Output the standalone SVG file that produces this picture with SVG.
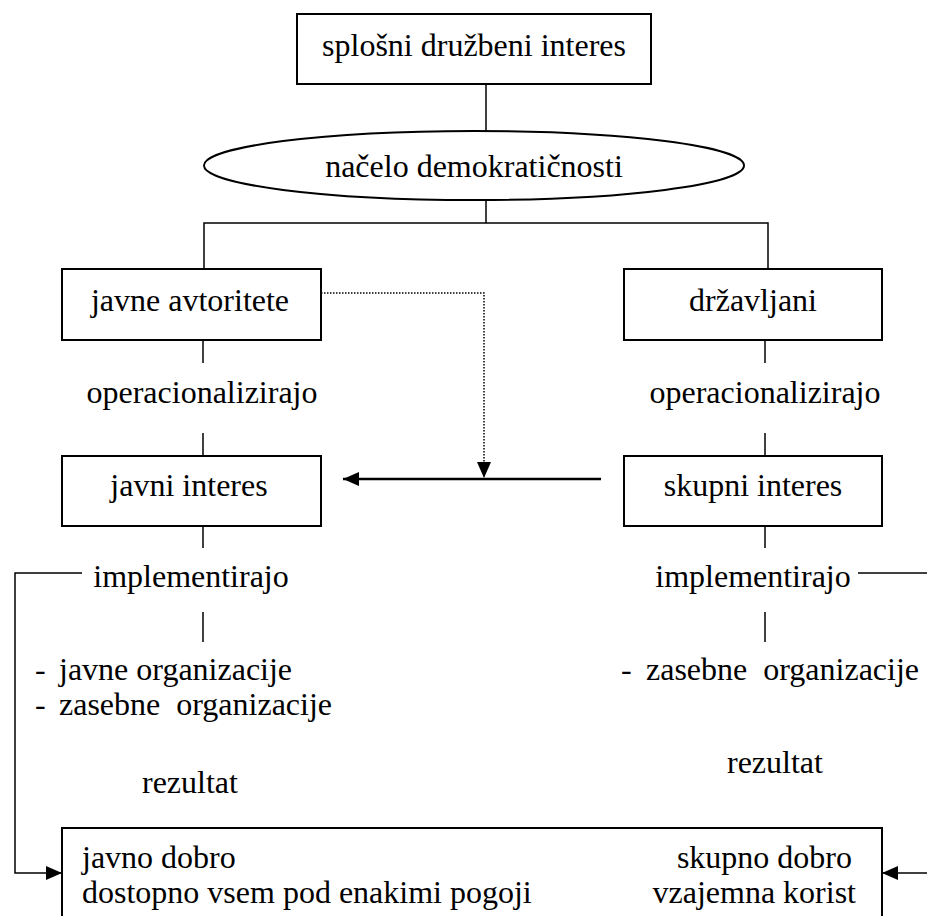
<svg xmlns="http://www.w3.org/2000/svg" width="927" height="916" viewBox="0 0 927 916">
<style>
text{font-family:'Liberation Serif','DejaVu Serif',serif;font-size:32px;fill:#000;white-space:pre}
.m{text-anchor:middle}
.e{text-anchor:end}
.box{fill:#fff;stroke:#000;stroke-width:2}
.ln{fill:none;stroke:#000;stroke-width:1.5}
.dot{fill:none;stroke:#000;stroke-width:1.5;stroke-dasharray:1.5 1.5}
</style>
<defs>
<marker id="ah" viewBox="0 0 10 10" refX="10" refY="5" markerWidth="10" markerHeight="10" markerUnits="userSpaceOnUse" orient="auto">
<path d="M0,0 L10,5 L0,10 Z" fill="#000"/>
</marker>
<marker id="ahb" viewBox="0 0 16 14" refX="16" refY="7" markerWidth="16" markerHeight="14" markerUnits="userSpaceOnUse" orient="auto">
<path d="M0,0 L16,7 L0,14 Z" fill="#000"/>
</marker>
</defs>
<g id="connectors">
<line class="ln" x1="486" y1="84" x2="486" y2="131"/>
<polyline class="ln" points="486,200 486,223"/>
<polyline class="ln" points="204,269 204,223 768,223 768,269"/>
<line class="ln" x1="203" y1="340" x2="203" y2="363"/>
<line class="ln" x1="203" y1="433" x2="203" y2="456"/>
<line class="ln" x1="203" y1="526" x2="203" y2="548"/>
<line class="ln" x1="203" y1="612" x2="203" y2="642"/>
<line class="ln" x1="765" y1="340" x2="765" y2="363"/>
<line class="ln" x1="765" y1="433" x2="765" y2="456"/>
<line class="ln" x1="765" y1="526" x2="765" y2="548"/>
<line class="ln" x1="765" y1="612" x2="765" y2="642"/>
<polyline class="dot" points="321,293 484,293 484,478" marker-end="url(#ahb)"/>
<line x1="601" y1="479" x2="343" y2="479" stroke="#000" stroke-width="2.5" marker-end="url(#ahb)"/>
<polyline class="ln" points="82,573 15,573 15,873 62,873" marker-end="url(#ahb)"/>
<line class="ln" x1="858" y1="573" x2="927" y2="573"/>
<line class="ln" x1="927" y1="873" x2="882" y2="873" marker-end="url(#ahb)"/>
</g>
<g id="n-splosni">
<rect class="box" x="297" y="14" width="354" height="70"/>
<text class="m" x="474" y="56">splošni družbeni interes</text>
</g>
<g id="n-nacelo">
<ellipse class="box" cx="474" cy="165.5" rx="270" ry="34.5"/>
<text class="m" x="474" y="177">načelo demokratičnosti</text>
</g>
<g id="n-avtoritete">
<rect class="box" x="62" y="269" width="259" height="71"/>
<text class="m" x="190" y="311">javne avtoritete</text>
</g>
<g id="n-drzavljani">
<rect class="box" x="624" y="269" width="258" height="71"/>
<text class="m" x="753" y="311">državljani</text>
</g>
<g id="l-op1"><text class="m" x="202" y="403">operacionalizirajo</text></g>
<g id="l-op2"><text class="m" x="765" y="403">operacionalizirajo</text></g>
<g id="n-javni">
<rect class="box" x="62" y="456" width="259" height="70"/>
<text class="m" x="189" y="496">javni interes</text>
</g>
<g id="n-skupni">
<rect class="box" x="624" y="456" width="258" height="70"/>
<text class="m" x="753" y="496">skupni interes</text>
</g>
<g id="l-impl1"><text class="m" x="191" y="587">implementirajo</text></g>
<g id="l-impl2"><text class="m" x="753" y="587">implementirajo</text></g>
<g id="l-org1">
<text x="35" y="680">- <tspan x="59">javne organizacije</tspan></text>
<text x="35" y="715">- <tspan x="59">zasebne  organizacije</tspan></text>
</g>
<g id="l-org2">
<text x="621" y="680">- <tspan x="646">zasebne  organizacije</tspan></text>
</g>
<g id="l-rez1"><text x="142" y="793">rezultat</text></g>
<g id="l-rez2"><text x="727" y="773">rezultat</text></g>
<g id="n-dobro">
<rect class="box" x="62" y="828" width="820" height="100"/>
<text x="82" y="868">javno dobro</text>
<text x="82" y="903">dostopno vsem pod enakimi pogoji</text>
<text class="e" x="852" y="868">skupno dobro</text>
<text class="e" x="856" y="903">vzajemna korist</text>
</g>
</svg>
